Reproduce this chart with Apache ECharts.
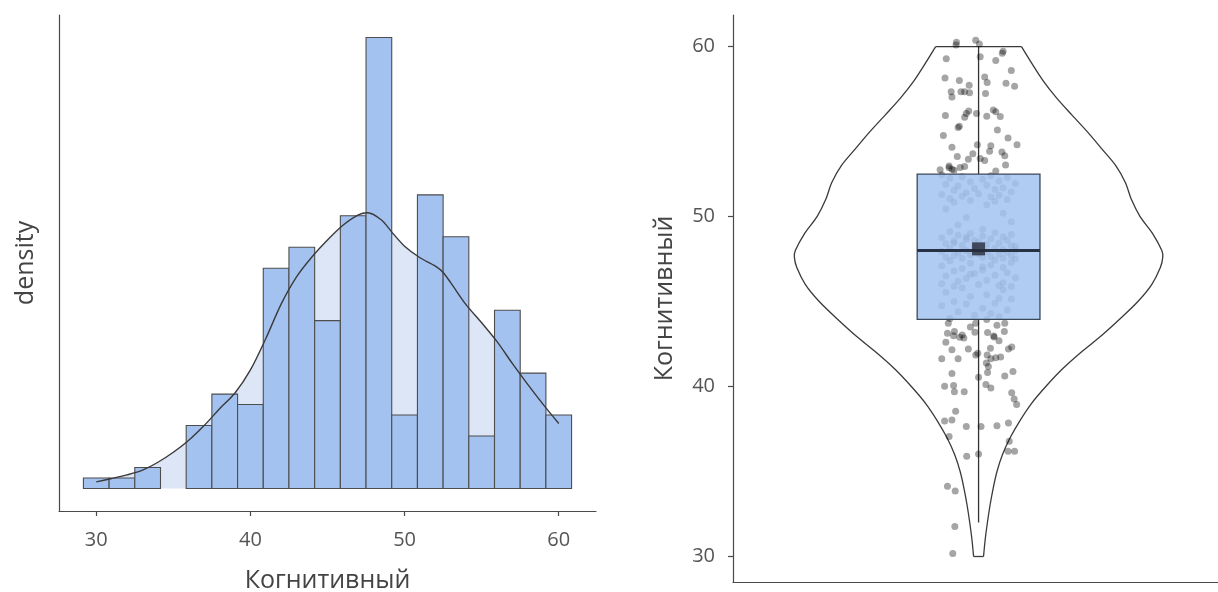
<!DOCTYPE html>
<html>
<head>
<meta charset="utf-8">
<script src="https://cdn.jsdelivr.net/npm/echarts@6/dist/echarts.min.js"></script>
<style>
  html, body { margin: 0; padding: 0; background: #ffffff; }
  #chart { width: 1218px; height: 592px; }
</style>
</head>
<body>
<div id="chart"></div>
<script>
// Histogram of scores: bin centres and counts (bin width 5/3)
const binCenters = [30, 31.667, 33.333, 35, 36.667, 38.333, 40, 41.667, 43.333, 45,
                    46.667, 48.333, 50, 51.667, 53.333, 55, 56.667, 58.333, 60];
const histCounts = [1, 1, 2, 0, 6, 9, 8, 21, 23, 16, 26, 43, 7, 28, 24, 5, 17, 11, 7];
const binWidth = 5 / 3;

// Kernel density estimate (score, density)
const densityX = [30, 31, 32, 33, 34, 35, 36, 37, 38, 39, 40, 41, 42, 43, 44, 45, 46, 47, 47.6,
                  48.5, 49.2, 50, 51, 52, 52.5, 53, 54, 55, 56, 57, 58, 59, 60];
const densityY = [0.00148, 0.00224, 0.00306, 0.00412, 0.00588, 0.00812, 0.01082, 0.01412, 0.01788, 0.02141,
                  0.02659, 0.03365, 0.04141, 0.04753, 0.05200, 0.05576, 0.05906, 0.06141, 0.06188,
                  0.06024, 0.05741, 0.05435, 0.05176, 0.04988, 0.04847, 0.04612, 0.04118, 0.03718, 0.03294,
                  0.02800, 0.02329, 0.01882, 0.01459];

// Violin outline: score level and relative half-width (1 = widest)
const violinY = [30, 31, 32, 33, 34, 35, 36, 37, 38, 39, 40, 41, 42, 43, 44, 45, 46, 47, 47.6,
                 48, 49, 50, 51, 52, 53, 54, 55, 56, 57, 58, 59, 60];
const violinWidth = [0.027, 0.036, 0.048, 0.062, 0.079, 0.100, 0.130, 0.172, 0.225, 0.287, 0.365, 0.452,
                     0.555, 0.668, 0.770, 0.865, 0.940, 0.987, 1.0, 0.995, 0.945, 0.877, 0.830, 0.797,
                     0.745, 0.668, 0.590, 0.505, 0.422, 0.350, 0.290, 0.233];

// Individual scores and their horizontal jitter
const scores = [
  60.26, 60.09, 60.37, 60.15, 59.40, 59.29, 59.72, 59.61, 59.18, 58.60, 58.15, 58.00, 57.72, 58.21, 57.89, 57.85, 57.67,
  57.35, 57.03, 57.35, 57.35, 57.29, 57.24, 56.21, 56.06, 55.84, 55.95, 56.06, 55.91, 56.27, 56.17, 55.89, 55.31, 55.24,
  55.09, 54.77, 54.62, 54.23, 54.08, 54.23, 54.16, 53.84, 53.80, 53.54, 53.69, 53.37, 53.41, 53.30, 53.58, 52.98, 53.04,
  52.76, 52.87, 52.79, 52.94, 52.68, 52.89, 52.72,
  52.45, 52.40, 52.35, 52.30, 52.25, 52.20, 52.10, 52.05, 51.95, 51.90, 51.85, 51.80, 51.70, 51.65, 51.60, 51.55, 51.45,
  51.40, 51.35, 51.30, 51.25, 51.20, 51.15, 51.05, 51.00, 50.95, 50.90, 50.85,
  50.70, 50.45, 50.20, 49.95, 49.70, 49.50, 49.25,
  49.10, 49.05, 49.00, 48.95, 48.90, 48.85, 48.80, 48.75, 48.70, 48.65, 48.60, 48.55, 48.50, 48.45, 48.40, 48.35, 48.30,
  48.25, 48.20, 48.15, 48.10, 48.05, 48.00, 47.95, 47.95, 47.90, 47.85, 47.80, 47.80, 47.75, 47.70, 47.70, 47.65, 47.60,
  47.60, 47.55, 47.55, 47.52, 48.60, 48.30, 48.00, 48.80, 48.45,
  47.45, 47.40, 47.30, 47.25, 47.15, 47.10, 47.00, 46.95, 46.85, 46.80, 46.70, 46.65, 46.55, 46.50, 46.40, 46.35, 46.25,
  46.20, 46.10, 46.05, 46.00, 45.95, 45.90, 45.88, 46.60, 47.05,
  45.80, 45.70, 45.55, 45.40, 45.30, 45.15, 45.00, 44.90, 44.75, 44.60, 44.50, 44.40, 44.30, 44.20, 45.20, 44.85,
  44.10, 44.00, 43.95,
  43.72, 43.72, 43.72, 43.14, 42.99, 43.03, 42.86, 43.20, 43.18, 42.92, 43.24, 42.17, 42.21, 42.21, 42.32, 41.63, 41.63,
  41.85, 41.85, 41.63, 41.69, 41.74, 40.77, 40.83, 40.88, 40.55, 40.62, 40.01, 40.06, 39.69, 39.69, 40.12, 39.91, 39.63,
  39.26, 38.94, 37.97, 38.03, 38.55, 37.65, 37.65, 37.69, 37.86, 37.06, 36.78, 36.20, 36.20, 35.90, 36.03, 34.14, 33.86,
  31.77, 30.18,
  43.24, 42.90, 42.98, 42.26, 41.96, 41.38, 41.18, 43.50, 43.60, 42.60, 42.70
];
const jitter = [
  -0.054, -0.055, -0.007, 0.002, 0.004, -0.079, 0.060, 0.058, 0.042, 0.080, -0.082, -0.047, -0.023, 0.015, 0.021, 0.067, 0.088,
  -0.067, -0.065, -0.043, -0.034, -0.022, 0.017, -0.024, -0.030, -0.034, -0.081, -0.005, 0.020, 0.036, 0.042, 0.053, -0.047, -0.050,
  0.046, -0.086, 0.072, 0.094, -0.065, -0.003, 0.030, 0.027, 0.057, -0.052, -0.014, -0.025, 0.004, 0.015, 0.064, -0.072, 0.066,
  -0.094, -0.072, -0.065, -0.034, 0.042, -0.045, -0.060,
  -0.09, 0.03, -0.04, 0.07, -0.07, 0.01, 0.05, -0.02, 0.09, -0.08, 0.02, -0.05, 0.06, -0.01, 0.04, -0.06, 0.08,
  -0.03, 0.00, -0.09, 0.05, -0.04, 0.03, -0.07, 0.07, -0.02, 0.04, -0.06,
  0.02, -0.08, 0.06, -0.03, 0.08, -0.05, 0.01,
  -0.07, 0.04, -0.02, 0.08, -0.05, 0.01, 0.06, -0.09, 0.03, -0.03, 0.07, -0.06, 0.00, 0.05, -0.08, 0.02, -0.04,
  0.09, -0.01, 0.04, -0.07, 0.06, -0.03, 0.02, -0.09, 0.07, -0.05, 0.00, 0.05, -0.02, 0.08, -0.06, 0.03, -0.08,
  0.01, 0.06, -0.04, 0.09, -0.01, 0.08, 0.09, -0.03, -0.06,
  0.04, -0.07, 0.08, -0.02, 0.03, -0.09, 0.06, -0.04, 0.01, -0.06, 0.07, -0.01, 0.04, -0.08, 0.09, -0.03, 0.02,
  -0.05, 0.06, -0.09, 0.00, 0.05, -0.06, 0.08, -0.02, 0.01,
  -0.04, 0.06, -0.08, 0.02, -0.02, 0.08, -0.06, 0.04, -0.09, 0.01, 0.07, -0.05, 0.03, -0.01, 0.05, -0.03,
  0.05, -0.07, 0.02,
  -0.074, -0.007, 0.064, -0.076, -0.061, -0.040, -0.036, -0.009, 0.022, 0.038, 0.063, -0.065, -0.025, 0.073, 0.081, -0.090, -0.050,
  -0.007, 0.021, 0.030, 0.042, 0.054, -0.065, 0.022, 0.084, 0.000, 0.064, -0.083, -0.061, -0.035, -0.059, 0.018, 0.030, 0.081,
  0.087, 0.093, -0.083, -0.065, -0.056, -0.030, 0.006, 0.045, 0.073, -0.072, 0.075, 0.072, 0.088, -0.029, 0.000, -0.076, -0.057,
  -0.058, -0.063,
  -0.059, -0.046, 0.037, 0.029, -0.002, 0.019, 0.024, -0.020, 0.045, -0.080, 0.050
];

// Box summary: lower whisker, Q1, median, Q3, upper whisker; and the mean
const boxFive = [32.0, 43.95, 48.0, 52.5, 60.0];
const meanScore = 48.1;

const xTicks = [30, 40, 50, 60];
const yTicks = [30, 40, 50, 60];

const nTotal = histCounts.reduce((a, b) => a + b, 0);
const histDensity = histCounts.map(c => c / (nTotal * binWidth));
const yMax = Math.max(...histDensity, ...densityY);

const FONT = 'Open Sans';
const AXIS_COLOR = '#4a4a4a';
const BAR_FILL = '#a4c2f0';
const AREA_FILL = '#dce6f7';

const chart = echarts.init(document.getElementById('chart'), null, { renderer: 'canvas' });

const option = {
  animation: false,
  backgroundColor: '#ffffff',
  grid: [
    { left: 59, top: 15, right: 622, bottom: 81, containLabel: false, outerBoundsMode: 'none' },
    { left: 733, top: 15, right: 0, bottom: 10, containLabel: false, outerBoundsMode: 'none' }
  ],
  xAxis: [
    {
      gridIndex: 0, type: 'value', min: 27.583, max: 62.417,
      axisLine: { show: true, onZero: false, lineStyle: { color: AXIS_COLOR, width: 1.2 } },
      axisTick: { show: true, length: 5, customValues: xTicks, lineStyle: { color: AXIS_COLOR, width: 1.2 } },
      axisLabel: { customValues: xTicks, color: '#555', fontSize: 20, fontFamily: FONT, margin: 19 },
      splitLine: { show: false },
      name: 'Когнитивный', nameLocation: 'middle', nameGap: 57,
      nameTextStyle: { color: '#444', fontSize: 25, fontFamily: FONT }
    },
    {
      gridIndex: 1, type: 'value', min: 0.4, max: 1.585,
      axisLine: { show: true, onZero: false, lineStyle: { color: AXIS_COLOR, width: 1.2 } },
      axisTick: { show: false }, axisLabel: { show: false }, splitLine: { show: false }
    }
  ],
  yAxis: [
    {
      gridIndex: 0, type: 'value', min: -0.05 * yMax, max: 1.05 * yMax,
      axisLine: { show: true, onZero: false, lineStyle: { color: AXIS_COLOR, width: 1.2 } },
      axisTick: { show: false }, axisLabel: { show: false }, splitLine: { show: false },
      name: 'density', nameLocation: 'middle', nameGap: 21,
      nameTextStyle: { color: '#444', fontSize: 25, fontFamily: FONT }
    },
    {
      gridIndex: 1, type: 'value', min: 28.5, max: 61.86,
      axisLine: { show: true, onZero: false, lineStyle: { color: AXIS_COLOR, width: 1.2 } },
      axisTick: { show: true, length: 5, customValues: yTicks, lineStyle: { color: AXIS_COLOR, width: 1.2 } },
      axisLabel: { customValues: yTicks, color: '#555', fontSize: 20, fontFamily: FONT, margin: 18 },
      splitLine: { show: false },
      name: 'Когнитивный', nameLocation: 'middle', nameGap: 56,
      nameTextStyle: { color: '#444', fontSize: 25, fontFamily: FONT }
    }
  ],
  series: [
    // density area (behind the bars)
    {
      type: 'line', xAxisIndex: 0, yAxisIndex: 0, z: 1,
      data: densityX.map((x, i) => [x, densityY[i]]),
      smooth: 0.3, symbol: 'none',
      lineStyle: { width: 0, opacity: 0 },
      areaStyle: { color: AREA_FILL, opacity: 1 }
    },
    // histogram bars
    {
      type: 'custom', xAxisIndex: 0, yAxisIndex: 0, z: 2,
      data: binCenters.map((c, i) => [c - binWidth / 2, c + binWidth / 2, histDensity[i]]),
      renderItem: function (params, api) {
        if (api.value(2) <= 0) return null;
        const p0 = api.coord([api.value(0), api.value(2)]);
        const p1 = api.coord([api.value(1), 0]);
        return {
          type: 'rect',
          shape: { x: p0[0], y: p0[1], width: p1[0] - p0[0], height: p1[1] - p0[1] },
          style: { fill: BAR_FILL, stroke: '#4d4d4d', lineWidth: 1.1 }
        };
      }
    },
    // density curve
    {
      type: 'line', xAxisIndex: 0, yAxisIndex: 0, z: 3,
      data: densityX.map((x, i) => [x, densityY[i]]),
      smooth: 0.3, symbol: 'none',
      lineStyle: { color: '#3a3a3a', width: 1.4 }
    },
    // violin outline
    {
      type: 'custom', xAxisIndex: 1, yAxisIndex: 1, z: 1,
      data: [[1]],
      renderItem: function (params, api) {
        const right = violinY.map((y, i) => api.coord([1 + 0.45 * violinWidth[i], y]));
        const left = violinY.map((y, i) => api.coord([1 - 0.45 * violinWidth[i], y]));
        const last = violinY.length - 1;
        const st = { fill: 'none', stroke: '#3a3a3a', lineWidth: 1.3 };
        return {
          type: 'group',
          children: [
            { type: 'polyline', shape: { points: right, smooth: 0.3 }, style: st },
            { type: 'polyline', shape: { points: left, smooth: 0.3 }, style: st },
            { type: 'line', shape: { x1: left[last][0], y1: left[last][1], x2: right[last][0], y2: right[last][1] }, style: st },
            { type: 'line', shape: { x1: left[0][0], y1: left[0][1], x2: right[0][0], y2: right[0][1] }, style: st }
          ]
        };
      }
    },
    // whiskers
    {
      type: 'custom', xAxisIndex: 1, yAxisIndex: 1, z: 3,
      data: [[1]],
      renderItem: function (params, api) {
        const top0 = api.coord([1, boxFive[3]]), top1 = api.coord([1, boxFive[4]]);
        const bot0 = api.coord([1, boxFive[1]]), bot1 = api.coord([1, boxFive[0]]);
        const st = { stroke: '#333', lineWidth: 1.3 };
        return {
          type: 'group',
          children: [
            { type: 'line', shape: { x1: top0[0], y1: top0[1], x2: top1[0], y2: top1[1] }, style: st },
            { type: 'line', shape: { x1: bot0[0], y1: bot0[1], x2: bot1[0], y2: bot1[1] }, style: st }
          ]
        };
      }
    },
    // jittered points
    {
      type: 'scatter', xAxisIndex: 1, yAxisIndex: 1, z: 4,
      data: scores.map((s, i) => [1 + jitter[i], s]),
      symbolSize: 7,
      itemStyle: { color: 'rgba(0,0,0,0.44)' }
    },
    // box
    {
      type: 'custom', xAxisIndex: 1, yAxisIndex: 1, z: 5,
      data: [[1]],
      renderItem: function (params, api) {
        const a = api.coord([0.85, boxFive[3]]);
        const b = api.coord([1.15, boxFive[1]]);
        const m0 = api.coord([0.85, boxFive[2]]);
        const m1 = api.coord([1.15, boxFive[2]]);
        return {
          type: 'group',
          children: [
            { type: 'rect', shape: { x: a[0], y: a[1], width: b[0] - a[0], height: b[1] - a[1] },
              style: { fill: 'rgba(164,196,241,0.86)', stroke: '#3c4759', lineWidth: 1.3 } },
            { type: 'line', shape: { x1: m0[0], y1: m0[1], x2: m1[0], y2: m1[1] },
              style: { stroke: '#273246', lineWidth: 3 } }
          ]
        };
      }
    },
    // mean marker
    {
      type: 'scatter', xAxisIndex: 1, yAxisIndex: 1, z: 6,
      data: [[1, meanScore]],
      symbol: 'rect', symbolSize: 13,
      itemStyle: { color: '#252b38' }
    }
  ]
};

chart.setOption(option);
</script>
</body>
</html>
